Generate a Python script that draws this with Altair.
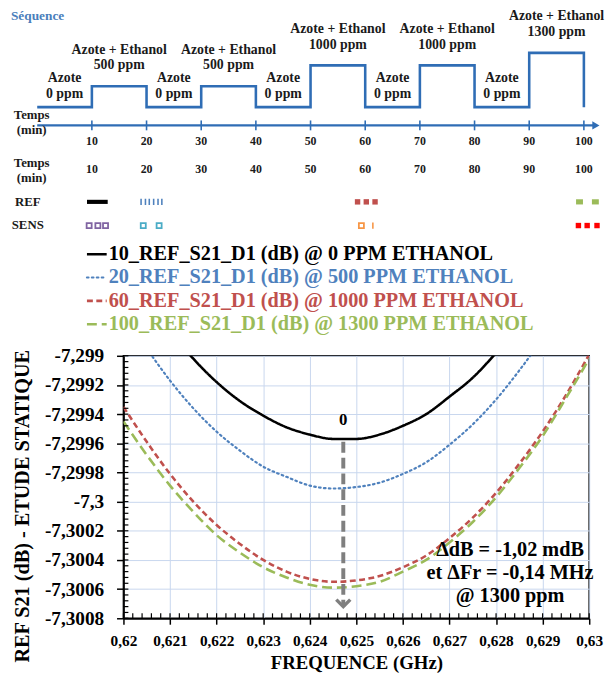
import altair as alt
import pandas as pd

SERIF = "Liberation Serif"
SEQ_BLUE = "#2f6db5"
TXT = "#1a1a1a"

# ---------------- sequence (top) ----------------
seq_start = [0, 10, 20, 30, 40, 50, 60, 70, 80, 90]
seq_ppm = [0, 500, 0, 500, 0, 1000, 0, 1000, 0, 1300]
seq_gas = ["Azote", "Azote + Ethanol", "Azote", "Azote + Ethanol", "Azote",
           "Azote + Ethanol", "Azote", "Azote + Ethanol", "Azote", "Azote + Ethanol"]
seq_end = 100
time_ticks = [10, 20, 30, 40, 50, 60, 70, 80, 90, 100]
time_axis_end = 102.2

# ---------------- REF / SENS glyphs ----------------
glyph_row = ["REF"] + ["REF"] * 6 + ["REF"] * 3 + ["REF"] * 2 + \
            ["SENS"] * 3 + ["SENS"] * 2 + ["SENS"] * 2 + ["SENS"] * 3
glyph_time = [11.0, 19.0, 19.8, 20.5, 21.3, 22.1, 22.8, 58.6, 60.2, 61.8, 99.2, 102.1,
              9.5, 11.1, 12.5, 19.4, 22.3, 59.3, 61.4, 99.0, 100.6, 102.4]
glyph_kind = ["bar"] + ["dash"] * 6 + ["sq"] * 3 + ["rsq"] * 2 + \
             ["osq"] * 3 + ["osq"] * 2 + ["osq", "vline"] + ["sq"] * 3
glyph_series = ["REF 10"] + ["REF 20"] * 6 + ["REF 60"] * 3 + ["REF 100"] * 2 + \
               ["SENS 10"] * 3 + ["SENS 20"] * 2 + ["SENS 60"] * 2 + ["SENS 100"] * 3
glyph_rows = ["REF", "SENS"]

# ---------------- legend ----------------
series_names = ["10", "20", "60", "100"]
series_labels = ["10_REF_S21_D1 (dB) @ 0 PPM ETHANOL",
                 "20_REF_S21_D1 (dB) @ 500 PPM ETHANOL",
                 "60_REF_S21_D1 (dB) @ 1000 PPM ETHANOL",
                 "100_REF_S21_D1 (dB) @ 1300 PPM ETHANOL"]

# ---------------- main curves ----------------
freq_black = [0.6210, 0.6215, 0.6220, 0.6225, 0.6230, 0.6235, 0.6240, 0.6245,
              0.6250, 0.6255, 0.6260, 0.6265, 0.6270, 0.6275, 0.6280, 0.6285]
s21_black = [-7.29883, -7.29902, -7.29918, -7.29931, -7.29941, -7.29949, -7.29954, -7.29957,
             -7.29957, -7.29954, -7.29948, -7.29940, -7.29928, -7.29915, -7.29898, -7.29879]
freq_blue = [0.6205, 0.6210, 0.6215, 0.6220, 0.6225, 0.6230, 0.6235, 0.6240, 0.6245,
             0.6250, 0.6255, 0.6260, 0.6265, 0.6270, 0.6275, 0.6280, 0.6285, 0.6290]
s21_blue = [-7.29895, -7.29917, -7.29936, -7.29952, -7.29965, -7.29976, -7.29983, -7.29989, -7.29991,
            -7.29990, -7.29987, -7.29981, -7.29973, -7.29961, -7.29947, -7.29930, -7.29910, -7.29888]
freq_rg = [0.6200, 0.6205, 0.6210, 0.6215, 0.6220, 0.6225, 0.6230, 0.6235, 0.6240, 0.6245, 0.6250,
           0.6255, 0.6260, 0.6265, 0.6270, 0.6275, 0.6280, 0.6285, 0.6290, 0.6295, 0.6300]
s21_red = [-7.29935, -7.29959, -7.29981, -7.30000, -7.30016, -7.30029, -7.30040, -7.30048, -7.30053,
           -7.30055, -7.30054, -7.30051, -7.30045, -7.30037, -7.30025, -7.30011, -7.29994, -7.29974,
           -7.29952, -7.29927, -7.29899]
s21_green = [-7.29945, -7.29968, -7.29989, -7.30007, -7.30023, -7.30035, -7.30045, -7.30052, -7.30057,
             -7.30059, -7.30058, -7.30055, -7.30048, -7.30040, -7.30028, -7.30014, -7.29997, -7.29977,
             -7.29955, -7.29929, -7.29902]

freq_ticks = [0.62, 0.621, 0.622, 0.623, 0.624, 0.625, 0.626, 0.627, 0.628, 0.629, 0.63]
s21_ticks = [-7.299, -7.2992, -7.2994, -7.2996, -7.2998, -7.3, -7.3002, -7.3004, -7.3006, -7.3008]
freq_minor = [round(0.62 + i * 0.0002, 4) for i in range(51)]
s21_minor = [round(-7.3008 + i * 0.00004, 5) for i in range(46)]

arrow_freq = 0.62472
arrow_from = -7.29959
arrow_to = -7.30072
zero_label_db = -7.29950
annot_freq = 0.62830
annot_db = -7.30033
annot_text = "ΔdB = -1,02 mdB\net ΔFr = -0,14 MHz\n@ 1300 ppm"

# ---------------- styles ----------------
W, H = 472, 266
curve_style = {
    "10": dict(color="#000000", dash=[1, 0], width=2.6),
    "20": dict(color="#4f81bd", dash=[1.6, 3.4], width=2.2),
    "60": dict(color="#c0504d", dash=[6, 3.5], width=2.6),
    "100": dict(color="#9bbb59", dash=[10, 5], width=2.6),
}
glyph_colors = {"REF 10": "#000000", "REF 20": "#4f81bd", "REF 60": "#c0504d", "REF 100": "#9bbb59",
                "SENS 10": "#8064a2", "SENS 20": "#4bacc6", "SENS 60": "#f79646", "SENS 100": "#ff0000"}
glyph_style = {
    "bar": dict(shape="M-1,-0.2H1V0.2H-1Z", size=441, filled=True, sw=0),
    "dash": dict(shape="M-0.25,-1H0.25V1H-0.25Z", size=40, filled=True, sw=0),
    "sq": dict(shape="M-1,-1H1V1H-1Z", size=30, filled=True, sw=0),
    "rsq": dict(shape="M-1,-0.75H1V0.75H-1Z", size=49, filled=True, sw=0),
    "osq": dict(shape="M-1,-1H1V1H-1Z", size=26, filled=False, sw=1.8),
    "vline": dict(shape="M0,-1V1", size=40, filled=False, sw=1.6),
}

# ================= main plot =================
fscale = alt.Scale(domain=[0.62, 0.63], nice=False, zero=False)
yscale = alt.Scale(domain=[-7.3008, -7.299], nice=False, zero=False)
xaxis = alt.Axis(values=freq_ticks,
                 labelExpr="replace(format(datum.value, '~g'), '.', ',')",
                 labelFont=SERIF, labelFontSize=15.5, labelFontWeight="bold", labelColor="black",
                 labelPadding=10, labelFlush=False, labelOverlap=False,
                 tickSize=6, tickWidth=1.5, tickColor="black",
                 domainColor="black", domainWidth=1.8,
                 grid=True, gridColor="#c8d6ee", gridWidth=1,
                 title="FREQUENCE (GHz)", titleFont=SERIF, titleFontSize=19,
                 titleFontWeight="bold", titleColor="black", titlePadding=4)
yaxis = alt.Axis(values=s21_ticks,
                 labelExpr="replace(replace(format(datum.value, '~g'), '.', ','), '\u2212', '-')",
                 labelFont=SERIF, labelFontSize=19.5, labelFontWeight="bold", labelColor="black",
                 labelPadding=13, labelFlush=False, labelOverlap=False,
                 tickSize=7, tickWidth=1.5, tickColor="black",
                 domainColor="black", domainWidth=1.8,
                 grid=True, gridColor="#c8d6ee", gridWidth=1,
                 title="REF S21 (dB) - ETUDE STATIQUE", titleFont=SERIF, titleFontSize=20.5,
                 titleFontWeight="bold", titleColor="black", titleX=-92, titleY=152)


def mx():
    return alt.X("f:Q", scale=fscale, axis=xaxis)


def my():
    return alt.Y("db:Q", scale=yscale, axis=yaxis)


curves = [("10", freq_black, s21_black), ("20", freq_blue, s21_blue),
          ("60", freq_rg, s21_red), ("100", freq_rg, s21_green)]
main_layers = []
for name, fr, db in curves:
    st = curve_style[name]
    main_layers.append(
        alt.Chart(pd.DataFrame({"f": fr, "db": db})).mark_line(
            color=st["color"], strokeDash=st["dash"], strokeWidth=st["width"],
            interpolate="monotone", clip=True,
            strokeCap="round" if name == "20" else "butt"
        ).encode(x=mx(), y=my())
    )

xminor = alt.Chart(pd.DataFrame({"f": freq_minor})).mark_rule(color="black", strokeWidth=1.2).encode(
    x=mx(), y=alt.value(H), y2=alt.value(H - 5))
yminor = alt.Chart(pd.DataFrame({"db": s21_minor})).mark_rule(color="black", strokeWidth=1.2).encode(
    y=my(), x=alt.value(0), x2=alt.value(5))

arrow_df = pd.DataFrame({"f": [arrow_freq], "db": [arrow_from], "db2": [arrow_to]})
arrow = alt.Chart(arrow_df).mark_rule(color="#7f7f7f", strokeWidth=4, strokeDash=[11, 5]).encode(
    x=mx(), y=my(), y2="db2:Q")
arrow_head = alt.Chart(pd.DataFrame({"f": [arrow_freq], "db": [arrow_to]})).mark_point(
    shape="M-1,-1L0,0L1,-1", size=200, filled=False, color="#7f7f7f", strokeWidth=3.5, opacity=1
).encode(x=mx(), y=my())
zero_lbl = alt.Chart(pd.DataFrame({"f": [arrow_freq], "db": [zero_label_db], "t": ["0"]})).mark_text(
    font=SERIF, fontSize=17, fontWeight="bold", color="black", baseline="bottom"
).encode(x=mx(), y=my(), text="t:N")
annot = alt.Chart(pd.DataFrame({"f": [annot_freq], "db": [annot_db], "t": [annot_text]})).mark_text(
    font=SERIF, fontSize=20.5, fontWeight="bold", color="black", lineBreak="\n", lineHeight=23.5,
    align="center", baseline="middle"
).encode(x=mx(), y=my(), text="t:N")

main = alt.layer(*main_layers, xminor, yminor, arrow, arrow_head, zero_lbl, annot)

# ================= sequence diagram =================
tscale = alt.Scale(domain=[0, 100], range=[-87.4, 466.6], nice=False, zero=False)
lscale = alt.Scale(domain=[0, 1300], range=[-252, -307], nice=False, zero=False)

step_df = pd.DataFrame({"t": seq_start + [seq_end], "ppm": seq_ppm + [0]})
step = alt.Chart(step_df).mark_line(interpolate="step-after", color=SEQ_BLUE, strokeWidth=2.6).encode(
    x=alt.X("t:Q", scale=tscale, axis=None), y=alt.Y("ppm:Q", scale=lscale, axis=None))

seg_df = pd.DataFrame({
    "t": [s + 5 for s in seq_start],
    "ppm": seq_ppm,
    "lbl": [g + "\n" + str(p) + " ppm" for g, p in zip(seq_gas, seq_ppm)],
})
seg_low = alt.Chart(seg_df).transform_filter("datum.ppm == 0").mark_text(
    font=SERIF, fontSize=14, fontWeight="bold", color=TXT, lineBreak="\n", lineHeight=16,
    baseline="middle", dy=-29
).encode(x=alt.X("t:Q", scale=tscale, axis=None), y=alt.Y("ppm:Q", scale=lscale, axis=None), text="lbl:N")
seg_high = alt.Chart(seg_df).transform_filter("datum.ppm > 0").mark_text(
    font=SERIF, fontSize=14, fontWeight="bold", color=TXT, lineBreak="\n", lineHeight=16,
    baseline="middle", dy=-37
).encode(x=alt.X("t:Q", scale=tscale, axis=None), y=alt.Y("ppm:Q", scale=lscale, axis=None), text="lbl:N")

axis_df = pd.DataFrame({"t0": [0], "t1": [time_axis_end]})
t_line = alt.Chart(axis_df).mark_rule(color=SEQ_BLUE, strokeWidth=2.4).encode(
    x=alt.X("t0:Q", scale=tscale, axis=None), x2="t1:Q", y=alt.value(-233.5))
t_arrow = alt.Chart(axis_df).mark_point(shape="triangle-right", filled=True, size=70, color=SEQ_BLUE,
                                        opacity=1).encode(
    x=alt.X("t1:Q", scale=tscale, axis=None), y=alt.value(-233.5))
tick_df = pd.DataFrame({"t": time_ticks, "lab": [str(v) for v in time_ticks]})
t_ticks = alt.Chart(tick_df).mark_rule(color=SEQ_BLUE, strokeWidth=1.6).encode(
    x=alt.X("t:Q", scale=tscale, axis=None), y=alt.value(-238.5), y2=alt.value(-228.5))
t_labels = alt.Chart(tick_df).mark_text(font=SERIF, fontSize=12, fontWeight="bold", color=TXT,
                                        baseline="middle").encode(
    x=alt.X("t:Q", scale=tscale, axis=None), y=alt.value(-218), text="lab:N")
t_labels2 = alt.Chart(tick_df).mark_text(font=SERIF, fontSize=12, fontWeight="bold", color=TXT,
                                         baseline="middle").encode(
    x=alt.X("t:Q", scale=tscale, axis=None), y=alt.value(-189), text="lab:N")

temps_df = pd.DataFrame({"txt": ["Temps\n(min)"]})
temps1 = alt.Chart(temps_df).mark_text(font=SERIF, fontSize=13, fontWeight="bold", color=TXT,
                                       lineBreak="\n", lineHeight=15, baseline="middle").encode(
    x=alt.value(-93), y=alt.value(-244), text="txt:N")
temps2 = alt.Chart(temps_df).mark_text(font=SERIF, fontSize=13, fontWeight="bold", color=TXT,
                                       lineBreak="\n", lineHeight=15, baseline="middle").encode(
    x=alt.value(-93), y=alt.value(-195), text="txt:N")
seq_title = alt.Chart(pd.DataFrame({"txt": ["Séquence"]})).mark_text(
    font=SERIF, fontSize=13.5, fontWeight="bold", color="#4a7ebb", align="left", baseline="middle"
).encode(x=alt.value(-114), y=alt.value(-344), text="txt:N")

seq = alt.layer(step, seg_low, seg_high, t_line, t_arrow, t_ticks, t_labels, t_labels2,
                temps1, temps2, seq_title)

# ================= REF / SENS glyph rows =================
rscale = alt.Scale(type="point", domain=glyph_rows, range=[-156, -132], padding=0)
glyph_df = pd.DataFrame({"row": glyph_row, "t": glyph_time, "kind": glyph_kind, "series": glyph_series})
gcolor = alt.Color("series:N", scale=alt.Scale(domain=list(glyph_colors.keys()),
                                               range=list(glyph_colors.values())), legend=None)
glyph_layers = []
for kind, st in glyph_style.items():
    glyph_layers.append(
        alt.Chart(glyph_df).transform_filter(alt.datum.kind == kind).mark_point(
            shape=st["shape"], size=st["size"], filled=st["filled"], strokeWidth=st["sw"], opacity=1
        ).encode(x=alt.X("t:Q", scale=tscale, axis=None),
                 y=alt.Y("row:N", scale=rscale, axis=None), color=gcolor)
    )
row_lbl = alt.Chart(pd.DataFrame({"row": glyph_rows})).mark_text(
    font=SERIF, fontSize=13, fontWeight="bold", color=TXT, baseline="middle"
).encode(x=alt.value(-97), y=alt.Y("row:N", scale=rscale, axis=None), text="row:N")
glyphs = alt.layer(*glyph_layers, row_lbl)

# ================= custom legend =================
sscale = alt.Scale(type="point", domain=series_names, range=[-103, -32], padding=0)
leg_layers = []
for name, lab in zip(series_names, series_labels):
    st = curve_style[name]
    d = pd.DataFrame({"s": [name], "lab": [lab]})
    leg_layers.append(alt.Chart(d).mark_rule(
        color=st["color"], strokeDash=st["dash"], strokeWidth=st["width"],
        strokeCap="round" if name == "20" else "butt"
    ).encode(y=alt.Y("s:N", scale=sscale, axis=None), x=alt.value(-37), x2=alt.value(-17)))
    leg_layers.append(alt.Chart(d).mark_text(
        font=SERIF, fontSize=20.5, fontWeight="bold", color=st["color"], align="left", baseline="middle"
    ).encode(y=alt.Y("s:N", scale=sscale, axis=None), x=alt.value(-15), text="lab:N"))
legend = alt.layer(*leg_layers)

chart = alt.layer(main, seq, glyphs, legend).resolve_scale(
    x="independent", y="independent", color="independent"
).properties(
    width=W, height=H,
    padding={"left": 117, "top": 348, "right": 16, "bottom": 52},
    autosize=alt.AutoSizeParams(type="none"),
).configure_view(stroke="black", strokeWidth=1.6)

chart.save("out.html", embed_options={"renderer": "svg", "actions": False})
